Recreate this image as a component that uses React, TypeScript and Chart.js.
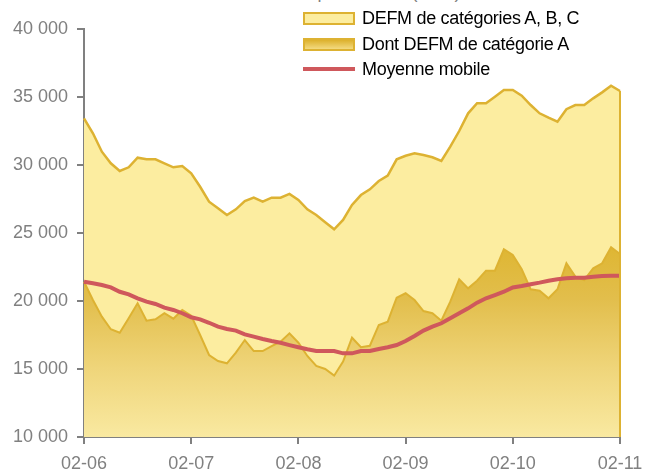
import React, { useEffect, useRef } from "react";
import { Chart, registerables } from "chart.js";

Chart.register(...registerables);

// Monthly categories Feb 2006 .. Feb 2011 (MM-YY)
const START_YEAR = 2006;
const START_MONTH = 2;
const N_MONTHS = 61;
const months: string[] = Array.from({ length: N_MONTHS }, (_, i) => {
  const m0 = START_MONTH - 1 + i;
  const y = START_YEAR + Math.floor(m0 / 12);
  const m = (m0 % 12) + 1;
  return `${String(m).padStart(2, "0")}-${String(y % 100).padStart(2, "0")}`;
});

// DEFM de catégories A, B, C
const defmABC: number[] = [
  33430, 32330, 30980, 30125, 29560, 29830, 30540, 30420, 30420, 30125,
  29830, 29930, 29390, 28400, 27300, 26820, 26320, 26740, 27350, 27600,
  27300, 27600, 27600, 27870, 27430, 26740, 26320, 25790, 25270, 25960,
  27060, 27790, 28210, 28820, 29220, 30420, 30680, 30860, 30740, 30570,
  30300, 31350, 32500, 33800, 34540, 34540, 35020, 35510, 35510, 35100,
  34410, 33800, 33480, 33180, 34100, 34410, 34410, 34900, 35340, 35830,
  35440,
];

// Dont DEFM de catégorie A
const defmA: number[] = [
  21420, 20070, 18850, 17920, 17670, 18730, 19830, 18550, 18650, 19100,
  18700, 19340, 18920, 17500, 16030, 15590, 15420, 16200, 17130, 16320,
  16320, 16690, 17010, 17620, 16930, 15960, 15220, 15000, 14510, 15540,
  17300, 16600, 16710, 18240, 18480, 20240, 20570, 20070, 19260, 19100,
  18550, 19950, 21600, 20930, 21490, 22230, 22230, 23800, 23380, 22330,
  20860, 20760, 20200, 20860, 22770, 21790, 21540, 22400, 22770, 23950,
  23460,
];

// Moyenne mobile
const moyenneMobile: number[] = [
  21420, 21300, 21180, 21000, 20680, 20490, 20200, 19950, 19780, 19510,
  19340, 19100, 18800, 18650, 18400, 18110, 17940, 17820, 17550, 17380,
  17210, 17060, 16930, 16760, 16600, 16450, 16320, 16320, 16320, 16150,
  16150, 16320, 16320, 16470, 16600, 16760, 17060, 17430, 17820, 18110,
  18360, 18730, 19100, 19460, 19880, 20200, 20440, 20680, 21000, 21100,
  21230, 21350, 21490, 21600, 21670, 21710, 21710, 21790, 21840, 21860,
  21860,
];

const Y_MIN = 10000;
const Y_MAX = 40000;
const Y_STEP = 5000;
const X_TICK_EVERY = 12;

const legendLabels = [
  "DEFM de catégories A, B, C",
  "Dont DEFM de catégorie A",
  "Moyenne mobile",
];

const GOLD = "#DDB232";
const PALE = "#FCEDA0";
const RED = "#CF585C";
const GREY = "#808080";
const FONT = "'Liberation Sans', Arial, sans-serif";

const fmt = (v: number) =>
  String(v).replace(/\B(?=(\d{3})+(?!\d))/g, " ");

export default function App() {
  const ref = useRef<HTMLCanvasElement | null>(null);

  useEffect(() => {
    if (!ref.current) return;

    const edgePlugin = {
      id: "edgeLine",
      afterDatasetsDraw(chart: any) {
        const x = chart.scales.x;
        const y = chart.scales.y;
        const last = defmABC.length - 1;
        const px = x.getPixelForValue(last);
        const c = chart.ctx;
        c.save();
        c.strokeStyle = GOLD;
        c.lineWidth = 2;
        c.beginPath();
        c.moveTo(px, y.getPixelForValue(defmABC[last]));
        c.lineTo(px, chart.chartArea.bottom);
        c.stroke();
        c.restore();
      },
    };

    const chart = new Chart(ref.current, {
      type: "line",
      data: {
        labels: months,
        datasets: [
          {
            label: legendLabels[2],
            data: moyenneMobile,
            borderColor: RED,
            borderWidth: 4,
            pointRadius: 0,
            fill: false,
            tension: 0,
          },
          {
            label: legendLabels[1],
            data: defmA,
            borderColor: GOLD,
            borderWidth: 2,
            pointRadius: 0,
            fill: "start",
            tension: 0,
            backgroundColor: (ctx: any) => {
              const ch = ctx.chart;
              const area = ch.chartArea;
              if (!area) return "#E6C45A";
              const ys = ch.scales.y;
              const top = ys.getPixelForValue(24500);
              const g = ch.ctx.createLinearGradient(0, top, 0, area.bottom);
              g.addColorStop(0, "#DEB52F");
              g.addColorStop(0.3, "#E2BE4C");
              g.addColorStop(0.65, "#EFD57A");
              g.addColorStop(1, "#F9E9A1");
              return g;
            },
          },
          {
            label: legendLabels[0],
            data: defmABC,
            borderColor: GOLD,
            borderWidth: 2.5,
            pointRadius: 0,
            fill: "start",
            backgroundColor: PALE,
            tension: 0,
          },
        ],
      },
      options: {
        responsive: false,
        animation: false,
        layout: { padding: { top: 29, right: 33, left: 0, bottom: 0 } },
        plugins: {
          legend: { display: false },
          tooltip: { enabled: false },
          title: { display: false },
        },
        scales: {
          x: {
            type: "category",
            offset: false,
            afterFit: (s: any) => {
              s.height = 37;
            },
            border: { color: GREY, width: 2 },
            grid: {
              drawOnChartArea: false,
              drawTicks: true,
              tickLength: 7,
              lineWidth: 2,
              color: (c: any) =>
                c.index % X_TICK_EVERY === 0 ? GREY : "rgba(0,0,0,0)",
              tickColor: (c: any) =>
                c.index % X_TICK_EVERY === 0 ? GREY : "rgba(0,0,0,0)",
            },
            ticks: {
              autoSkip: false,
              maxRotation: 0,
              minRotation: 0,
              padding: 9,
              color: GREY,
              font: { family: FONT, size: 18 },
              callback: (_v: any, i: number) =>
                i % X_TICK_EVERY === 0 ? months[i] : "",
            },
          },
          y: {
            min: Y_MIN,
            max: Y_MAX,
            afterFit: (s: any) => {
              s.width = 84;
            },
            border: { color: GREY, width: 2 },
            grid: {
              drawOnChartArea: false,
              drawTicks: true,
              tickLength: 7,
              lineWidth: 2,
              color: GREY,
              tickColor: GREY,
            },
            ticks: {
              stepSize: Y_STEP,
              padding: 9,
              color: GREY,
              font: { family: FONT, size: 18 },
              callback: (v: any) => fmt(Number(v)),
            },
          },
        },
      },
      plugins: [edgePlugin],
    });

    return () => chart.destroy();
  }, []);

  const rowStyle = (top: number): React.CSSProperties => ({
    position: "absolute",
    left: 303,
    top: top - 11,
    height: 22,
    display: "flex",
    alignItems: "center",
    whiteSpace: "nowrap",
  });
  const textStyle: React.CSSProperties = {
    marginLeft: 7,
    fontFamily: FONT,
    fontSize: 18,
    color: "#000",
    letterSpacing: -0.3,
  };

  return (
    <div
      style={{
        position: "fixed",
        left: 0,
        top: 0,
        width: 653,
        height: 474,
        overflow: "hidden",
        background: "#fff",
      }}
    >
      <div
        style={{
          position: "absolute",
          left: 80,
          top: -18,
          fontFamily: FONT,
          fontSize: 18,
          color: GREY,
          whiteSpace: "nowrap",
        }}
      >
        Nombre de demandeurs d'emploi inscrits (CVS)
      </div>
      <canvas
        ref={ref}
        width={653}
        height={474}
        style={{ position: "absolute", left: 0, top: 0, width: 653, height: 474 }}
      />
      <div style={rowStyle(18)}>
        <div
          style={{
            width: 48,
            height: 9,
            background: PALE,
            border: `2px solid ${GOLD}`,
          }}
        />
        <span style={textStyle}>{legendLabels[0]}</span>
      </div>
      <div style={rowStyle(44)}>
        <div
          style={{
            width: 48,
            height: 9,
            background: "linear-gradient(#DDB12C, #F3DA80)",
            border: `2px solid ${GOLD}`,
          }}
        />
        <span style={textStyle}>{legendLabels[1]}</span>
      </div>
      <div style={rowStyle(69)}>
        <div style={{ width: 52, height: 4, background: RED }} />
        <span style={textStyle}>{legendLabels[2]}</span>
      </div>
    </div>
  );
}
